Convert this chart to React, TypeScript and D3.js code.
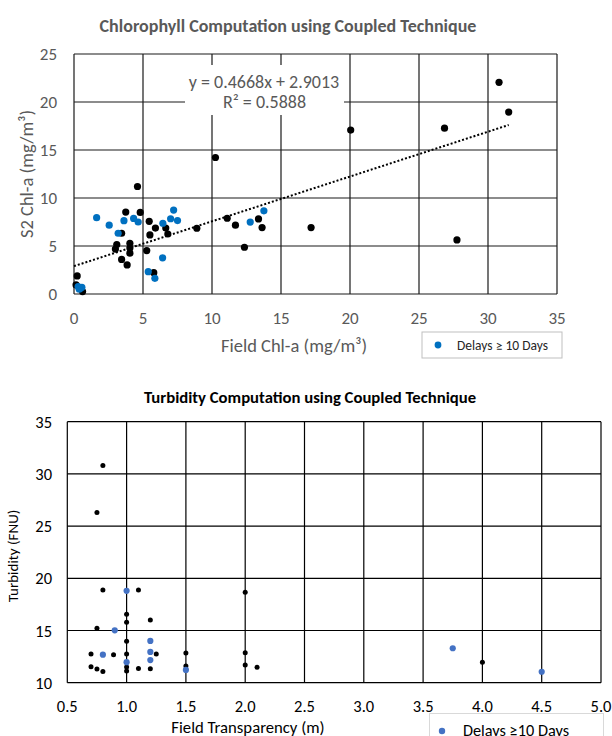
import React from 'react';
import * as d3 from 'd3';

// Chlorophyll chart: field vs S2 values
const chlOnTimeField = [0.15, 0.23, 0.62, 30.8, 31.5, 20.05, 26.85, 27.75, 10.25, 4.6, 3.75, 4.8, 5.45, 3.45, 5.9, 5.5, 6.65, 6.8, 3.1, 3.0, 4.05, 4.05, 4.05, 5.27, 3.45, 3.85, 5.78, 8.9, 11.1, 11.7, 12.35, 13.37, 13.63, 17.18];
const chlOnTimeS2 = [0.95, 1.88, 0.25, 22.05, 18.95, 17.08, 17.27, 5.63, 14.22, 11.2, 8.53, 8.5, 7.57, 6.33, 6.87, 6.15, 6.87, 6.25, 5.15, 4.68, 5.28, 4.78, 4.25, 4.52, 3.6, 3.03, 2.22, 6.85, 7.89, 7.17, 4.87, 7.82, 6.92, 6.92];
const chlDelayedField = [1.64, 2.55, 3.2, 3.62, 4.32, 4.65, 6.44, 7.0, 7.22, 7.5, 6.42, 5.38, 5.86, 12.77, 13.76, 0.3, 0.45, 0.57, 0.38];
const chlDelayedS2 = [7.95, 7.17, 6.33, 7.64, 7.87, 7.5, 7.37, 7.84, 8.74, 7.65, 3.77, 2.33, 1.63, 7.49, 8.66, 0.78, 0.6, 0.7, 0.5];
const chlXTicks = [0, 5, 10, 15, 20, 25, 30, 35];
const chlYTicks = [0, 5, 10, 15, 20, 25];
const chlSlope = 0.4668;
const chlIntercept = 2.9013;
const chlR2 = '0.5888';

// Turbidity chart: field transparency vs turbidity
const turbOnTimeTransp = [0.8, 0.75, 0.8, 1.1, 2.0, 1.0, 1.0, 1.2, 0.75, 1.0, 0.7, 0.89, 1.0, 1.25, 1.5, 2.0, 0.7, 0.75, 0.8, 1.0, 1.0, 1.1, 1.2, 1.5, 2.0, 2.1, 4.0];
const turbOnTimeFnu = [30.8, 26.3, 18.88, 18.88, 18.66, 16.55, 15.78, 16.0, 15.22, 13.96, 12.75, 12.68, 12.75, 12.75, 12.85, 12.87, 11.53, 11.32, 11.08, 11.5, 11.13, 11.36, 11.33, 11.6, 11.7, 11.47, 11.95];
const turbDelayedTransp = [1.0, 0.9, 1.2, 1.2, 1.2, 0.8, 1.0, 1.5, 3.75, 4.5];
const turbDelayedFnu = [18.8, 15.02, 14.0, 12.95, 12.17, 12.68, 11.97, 11.22, 13.3, 11.05];
const turbXTicks = [0.5, 1.0, 1.5, 2.0, 2.5, 3.0, 3.5, 4.0, 4.5, 5.0];
const turbYTicks = [10, 15, 20, 25, 30, 35];

const FONT = 'Carlito, Lato, sans-serif';

function ChlChart() {
  const x = d3.scaleLinear().domain([0, 35]).range([74, 557]);
  const y = d3.scaleLinear().domain([0, 25]).range([294, 54]);
  const grey = '#595959';
  const trendEnd = d3.max(chlOnTimeField) as number;
  const trend = d3.line<number>()
    .x((d) => x(d))
    .y((d) => y(chlSlope * d + chlIntercept));

  return (
    <g>
      <text x={288} y={26} textAnchor="middle" dominantBaseline="central" fontFamily={FONT}
        fontSize={18} fontWeight="bold" fill={grey}>
        Chlorophyll Computation using Coupled Technique
      </text>

      {/* grid */}
      {chlXTicks.map((t) => (
        <line key={'gx' + t} x1={x(t)} x2={x(t)} y1={y(25)} y2={y(0)} stroke="#1a1a1a" strokeWidth={1.2} />
      ))}
      {chlYTicks.map((t) => (
        <line key={'gy' + t} x1={x(0)} x2={x(35)} y1={y(t)} y2={y(t)} stroke="#1a1a1a" strokeWidth={1.2} />
      ))}

      {/* tick labels */}
      {chlXTicks.map((t) => (
        <text key={'tx' + t} x={x(t)} y={318} textAnchor="middle" dominantBaseline="central"
          fontFamily={FONT} fontSize={17} fill={grey}>{t}</text>
      ))}
      {chlYTicks.map((t) => (
        <text key={'ty' + t} x={57} y={y(t)} textAnchor="end" dominantBaseline="central"
          fontFamily={FONT} fontSize={17} fill={grey}>{t}</text>
      ))}

      <text x={294} y={345} textAnchor="middle" dominantBaseline="central" fontFamily={FONT}
        fontSize={18.5} fill={grey}>Field Chl-a (mg/m³)</text>
      <text transform={`translate(26,${(y(0) + y(25)) / 2}) rotate(-90)`} textAnchor="middle"
        dominantBaseline="central" fontFamily={FONT} fontSize={18.5} fill={grey}>S2 Chl-a (mg/m³)</text>

      {/* trendline label */}
      <rect x={185} y={65} width={159} height={50} fill="#fff" />
      <text x={264} y={82} textAnchor="middle" dominantBaseline="central" fontFamily={FONT}
        fontSize={18} fill={grey}>{`y = ${chlSlope}x + ${chlIntercept}`}</text>
      <text x={264.5} y={102} textAnchor="middle" dominantBaseline="central" fontFamily={FONT}
        fontSize={18} fill={grey}>{`R² = ${chlR2}`}</text>

      {/* points */}
      {chlOnTimeField.map((d, i) => (
        <circle key={'b' + i} cx={x(d)} cy={y(chlOnTimeS2[i])} r={3.6} fill="#000" />
      ))}
      {chlDelayedField.map((d, i) => (
        <circle key={'d' + i} cx={x(d)} cy={y(chlDelayedS2[i])} r={3.6} fill="#0070C0" />
      ))}

      <path d={trend([0, trendEnd]) || ''} fill="none" stroke="#000" strokeWidth={2} strokeDasharray="2 2" />

      {/* legend */}
      <rect x={422} y={332} width={140} height={26} fill="#fff" stroke="#bfbfbf" strokeWidth={1} />
      <circle cx={438} cy={345} r={3.4} fill="#0070C0" />
      <text x={457} y={345.5} dominantBaseline="central" fontFamily={FONT} fontSize={13.5}
        fill="#262626">Delays ≥ 10 Days</text>
    </g>
  );
}

function TurbChart() {
  const x = d3.scaleLinear().domain([0.5, 5]).range([67.3, 601]);
  const y = d3.scaleLinear().domain([10, 35]).range([682.7, 421.7]);

  return (
    <g>
      <text x={310} y={397} textAnchor="middle" dominantBaseline="central" fontFamily={FONT}
        fontSize={16.7} fontWeight="bold" fill="#000">
        Turbidity Computation using Coupled Technique
      </text>

      {turbXTicks.map((t) => (
        <line key={'gx' + t} x1={x(t)} x2={x(t)} y1={y(35)} y2={y(10)} stroke="#000" strokeWidth={1.2} />
      ))}
      {turbYTicks.map((t) => (
        <line key={'gy' + t} x1={x(0.5)} x2={x(5)} y1={y(t)} y2={y(t)} stroke="#000" strokeWidth={1.2} />
      ))}

      {turbXTicks.map((t) => (
        <text key={'tx' + t} x={x(t)} y={706} textAnchor="middle" dominantBaseline="central"
          fontFamily={FONT} fontSize={16.5} fill="#000">{d3.format('.1f')(t)}</text>
      ))}
      {turbYTicks.map((t) => (
        <text key={'ty' + t} x={52} y={y(t)} textAnchor="end" dominantBaseline="central"
          fontFamily={FONT} fontSize={16.5} fill="#000">{t}</text>
      ))}

      <text x={248} y={727} textAnchor="middle" dominantBaseline="central" fontFamily={FONT}
        fontSize={16.7} fill="#000">Field Transparency (m)</text>
      <text transform="translate(13,556) rotate(-90)" textAnchor="middle" dominantBaseline="central"
        fontFamily={FONT} fontSize={15} fill="#000">Turbidity (FNU)</text>

      {turbOnTimeTransp.map((d, i) => (
        <circle key={'b' + i} cx={x(d)} cy={y(turbOnTimeFnu[i])} r={2.5} fill="#000" />
      ))}
      {turbDelayedTransp.map((d, i) => (
        <circle key={'d' + i} cx={x(d)} cy={y(turbDelayedFnu[i])} r={3.1} fill="#4472C4" />
      ))}

      <rect x={429.5} y={713.5} width={174} height={40} fill="#fff" stroke="#d9d9d9" strokeWidth={1} />
      <circle cx={442} cy={731} r={3.2} fill="#4472C4" />
      <text x={463} y={730} dominantBaseline="central" fontFamily={FONT} fontSize={16.3}
        fill="#000">Delays ≥10 Days</text>
    </g>
  );
}

export default function App() {
  return (
    <svg width={612} height={736} style={{ position: 'absolute', left: 0, top: 0, background: '#fff' }}>
      <rect width={612} height={736} fill="#fff" />
      <ChlChart />
      <TurbChart />
    </svg>
  );
}
